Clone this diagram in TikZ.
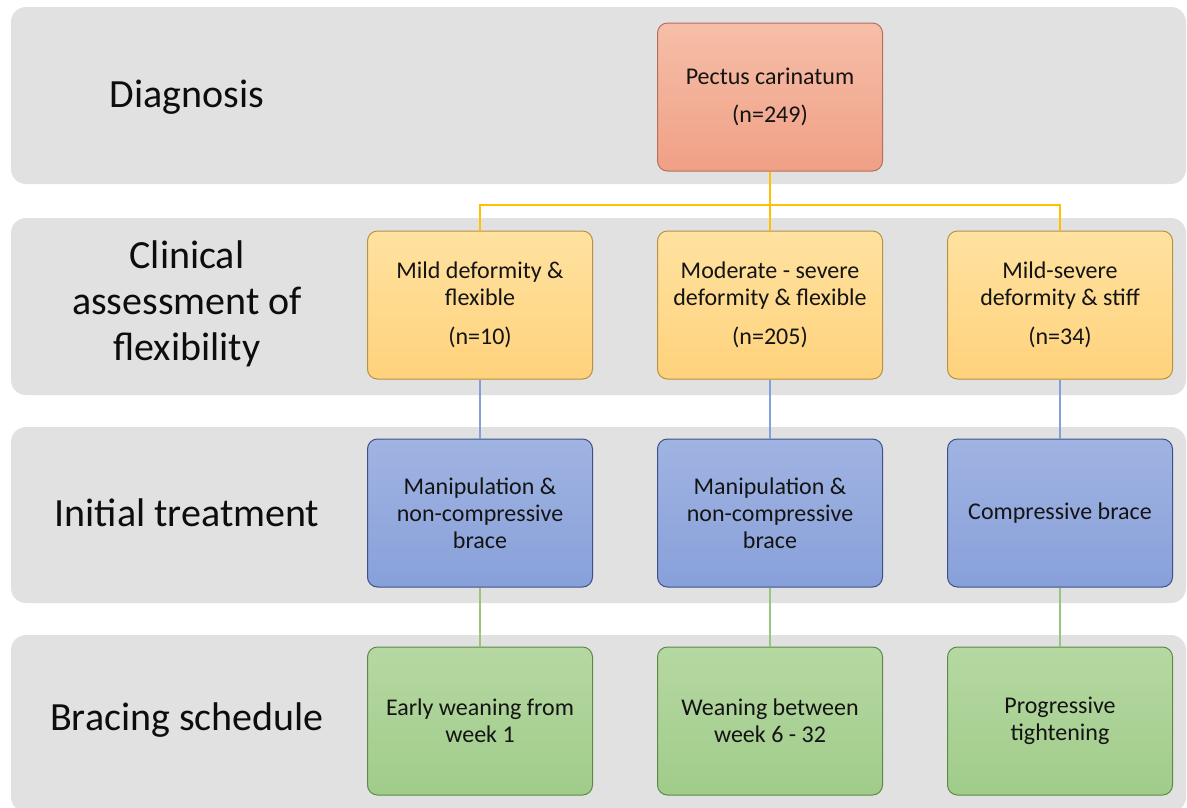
\documentclass[tikz,border=0pt]{standalone}
\usepackage{fontspec}
\setmainfont{Carlito}
\definecolor{bandgray}{RGB}{225,225,225}
\definecolor{diagtop}{RGB}{246,190,168}
\definecolor{diagbot}{RGB}{240,160,134}
\definecolor{diagline}{RGB}{180,112,92}
\definecolor{assesstop}{RGB}{255,226,160}
\definecolor{assessbot}{RGB}{255,210,124}
\definecolor{assessline}{RGB}{184,146,62}
\definecolor{treattop}{RGB}{160,180,226}
\definecolor{treatbot}{RGB}{136,160,218}
\definecolor{treatline}{RGB}{62,80,138}
\definecolor{schedtop}{RGB}{182,216,162}
\definecolor{schedbot}{RGB}{160,204,138}
\definecolor{schedline}{RGB}{92,138,70}
\definecolor{yellowline}{RGB}{255,192,0}
\definecolor{blueline}{RGB}{130,160,215}
\definecolor{greenline}{RGB}{150,198,125}
\tikzset{
    box/.style={rectangle, rounded corners=10pt, minimum width=225pt, minimum height=148pt, align=center, inner sep=4pt, text=black!92, line width=1pt, font=\fontsize{24}{27}\selectfont},
    diag/.style={box, draw=diagline, top color=diagtop, bottom color=diagbot},
    assess/.style={box, draw=assessline, top color=assesstop, bottom color=assessbot},
    treat/.style={box, draw=treatline, top color=treattop, bottom color=treatbot},
    sched/.style={box, draw=schedline, top color=schedtop, bottom color=schedbot},
    band/.style={fill=bandgray, rounded corners=15pt},
    rowtitle/.style={font=\fontsize{40}{46}\selectfont, align=center, text=black!95}
}

\begin{document}
\begin{tikzpicture}[x=1pt, y=1pt,
    level distance=208pt,
    level 1/.style={sibling distance=290pt,
        edge from parent/.style={draw=yellowline, line width=2pt},
        edge from parent path={(\tikzparentnode.south) -- ++(0,-33pt) -| (\tikzchildnode.north)}},
    level 2/.style={edge from parent/.style={draw=none}}]
    \useasboundingbox (0,0) rectangle (1187,-807);
    % grey bands
    \fill[band] (11,-7) rectangle (1186,-184);
    \fill[band] (11,-218) rectangle (1186,-395);
    \fill[band] (11,-427) rectangle (1186,-603);
    \fill[band] (11,-635) rectangle (1186,-812);
    % row titles
    \node[rowtitle] (tdiag) at (187,-97) {Diagnosis};
    \node[rowtitle] (tassess) at (187,-304) {Clinical\\assessment of\\flexibility};
    \node[rowtitle] (ttreat) at (187,-513) {Initial treatment};
    \node[rowtitle] (tsched) at (187,-720) {Bracing schedule};
    % flow chart
    \node[diag] (pc) at (770,-97) {Pectus carinatum\\[11pt](n=249)}
        child {node[assess] (mild) {Mild deformity \&\\flexible\\[12pt](n=10)}
            child {node[treat] (manA) {Manipulation \&\\non-compressive\\brace}
                child {node[sched] (early) {Early weaning from\\week 1}}
            }
        }
        child {node[assess] (moderate) {Moderate - severe\\deformity \& flexible\\[12pt](n=205)}
            child {node[treat] (manB) {Manipulation \&\\non-compressive\\brace}
                child {node[sched] (weaning) {Weaning between\\week 6 - 32}}
            }
        }
        child {node[assess] (stiff) {Mild-severe\\deformity \& stiff\\[12pt](n=34)}
            child {node[treat] (compress) {Compressive brace}
                child {node[sched] (tight) {Progressive\\tightening}}
            }
        };
    % lower connectors
    \foreach \a/\b in {mild/manA, moderate/manB, stiff/compress}
        \draw[blueline, line width=2.5pt] (\a.south) -- (\b.north);
    \foreach \a/\b in {manA/early, manB/weaning, compress/tight}
        \draw[greenline, line width=2.5pt] (\a.south) -- (\b.north);
\end{tikzpicture}
\end{document}
